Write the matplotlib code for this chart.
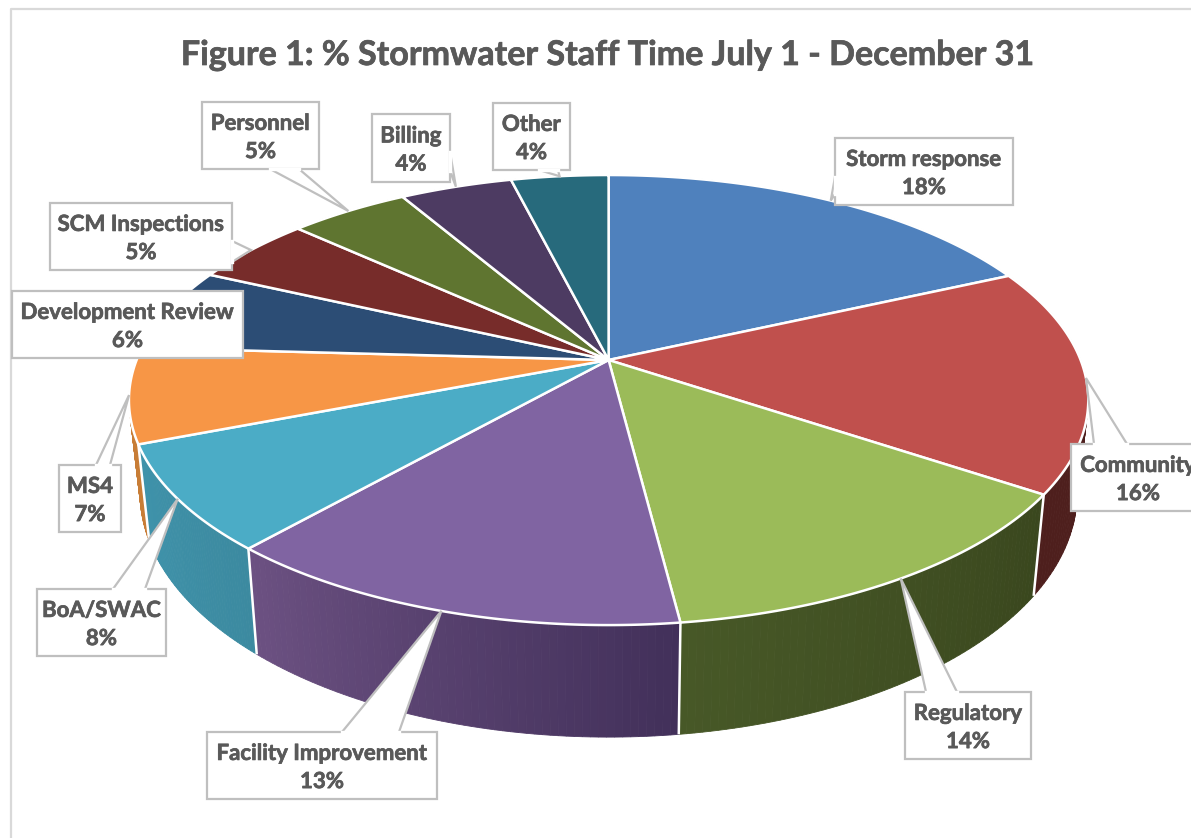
import matplotlib
matplotlib.use("Agg")
import matplotlib.pyplot as plt
import matplotlib.patheffects as pe
from matplotlib.patches import Polygon, Rectangle
import numpy as np

plt.rcParams['font.family'] = ['Lato', 'DejaVu Sans']

titulo = "Figure 1: % Stormwater Staff Time July 1 - December 31"
categorias = ["Storm response", "Community", "Regulatory", "Facility Improvement",
              "BoA/SWAC", "MS4", "Development Review", "SCM Inspections",
              "Personnel", "Billing", "Other"]
rotulos = ["18%", "16%", "14%", "13%", "8%", "7%", "6%", "5%", "5%", "4%", "4%"]
# slice sizes (perspective makes them a bit off the labels)
fatias = [18.2, 16.2, 13.6, 13.5, 7.6, 6.8, 6.0, 4.9, 4.8, 4.5, 3.9]

cores_topo = ["#4f81bd", "#c0504d", "#9bbb59", "#8064a2", "#4bacc6", "#f79646",
              "#2c4d75", "#772c2a", "#5f7530", "#4d3b62", "#276a7c"]
cores_lado_esq = ["#2f4d71", "#4e1f1d", "#475827", "#6c5182", "#3f93ab", "#c87d36",
                  "#1a2e46", "#471a19", "#39461d", "#2e233b", "#173f4a"]
cores_lado_dir = ["#2f4d71", "#4e1f1d", "#3a471e", "#42305a", "#3c8aa0", "#c87d36",
                  "#1a2e46", "#471a19", "#39461d", "#2e233b", "#173f4a"]

# label boxes: x0, y0, x1, y1 and the two points where the tail leaves the box
caixas = [(835, 138, 1013, 205, (835, 177), (835, 194)),
          (1071, 444, 1205, 511, (1094, 444), (1127, 444)),
          (905, 692, 1031, 759, (926, 692), (957, 692)),
          (207, 732, 437, 799, (342, 732), (399, 732)),
          (37, 589, 166, 656, (113, 589), (145, 589)),
          (59, 465, 121, 532, (96, 465), (110, 465)),
          (12, 291, 243, 358, None, None),
          (50, 203, 232, 270, (232, 241), (232, 262)),
          (202, 102, 319, 169, (270, 169), (299, 169)),
          (372, 114, 450, 182, (450, 152), (450, 171)),
          (493, 103, 570, 170, (539, 170), (558, 170))]

# perspective of the disc
cx, cy = 608.6, 360
k = 0.178
a_topo, b_topo = 472, 217.9
a_base, b_base, dy_base = 461, 236, 90

negrito = [pe.withStroke(linewidth=0.5, foreground="#595959")]


def topo(ang):
    u, v = np.sin(ang), -np.cos(ang)
    d = 1 - k * v
    return cx + a_topo * u / d, cy + b_topo * v / d


def base(ang):
    u, v = np.sin(ang), -np.cos(ang)
    d = 1 - k * v
    return cx + a_base * u / d, cy + dy_base + b_base * v / d


def misturar(c1, c2, t):
    c1 = np.array(matplotlib.colors.to_rgb(c1))
    c2 = np.array(matplotlib.colors.to_rgb(c2))
    return tuple(c1 + (c2 - c1) * t)


fig = plt.figure(figsize=(11.91, 8.38), dpi=100, facecolor="white")
ax = fig.add_axes([0, 0, 1, 1])
ax.set_xlim(0, 1191)
ax.set_ylim(838, 0)
ax.axis("off")

# chart frame
ax.plot([11, 11, 1191], [838, 9, 9], color="#d9d9d9", lw=1.6, zorder=1)

limites = np.concatenate([[0], np.cumsum(fatias)]) / sum(fatias) * 2 * np.pi

# side wall, back to front
segmentos = []
for i in range(len(fatias)):
    angs = np.linspace(limites[i], limites[i + 1], 60)
    for j in range(len(angs) - 1):
        meio = (angs[j] + angs[j + 1]) / 2
        t = j / (len(angs) - 2)
        # angles run clockwise: on the front the slice goes right to left
        segmentos.append((-np.cos(meio), angs[j], angs[j + 1], misturar(cores_lado_dir[i], cores_lado_esq[i], t)))
segmentos.sort(key=lambda s: s[0])
for _, a0, a1, cor in segmentos:
    x0, y0 = topo(a0)
    x1, y1 = topo(a1)
    x2, y2 = base(a1)
    x3, y3 = base(a0)
    ax.add_patch(Polygon([(x0, y0), (x1, y1), (x2, y2), (x3, y3)], closed=True,
                         facecolor=cor, edgecolor=cor, lw=0.6, zorder=2))

# white seams on the wall
for ang in limites[1:-1]:
    if -np.cos(ang) > 0.25:
        xt, yt = topo(ang)
        xb, yb = base(ang)
        ax.plot([xt, xb], [yt, yb], color="white", lw=1.8, zorder=3, solid_capstyle="butt")

# top of the disc
for i in range(len(fatias)):
    angs = np.linspace(limites[i], limites[i + 1], 120)
    xs, ys = topo(angs)
    pts = [(cx, cy)] + list(zip(xs, ys))
    ax.add_patch(Polygon(pts, closed=True, facecolor=cores_topo[i], edgecolor="white",
                         lw=1.8, joinstyle="round", zorder=4))

# callouts
for i, nome in enumerate(categorias):
    x0, y0, x1, y1, p1, p2 = caixas[i]
    ax.add_patch(Rectangle((x0, y0), x1 - x0, y1 - y0, facecolor="white", edgecolor="#bfbfbf",
                           lw=1.6, zorder=6))
    if p1 is not None:
        meio = (limites[i] + limites[i + 1]) / 2
        ponta = topo(meio)
        ax.add_patch(Polygon([p1, ponta, p2], closed=False, facecolor="white", edgecolor="#bfbfbf",
                             lw=1.6, zorder=7))
        ax.plot([p1[0], p2[0]], [p1[1], p2[1]], color="white", lw=2.4, zorder=8)
    ax.text((x0 + x1) / 2, (y0 + y1) / 2 + 2, nome + "\n" + rotulos[i], ha="center", va="center",
            fontsize=16, fontweight="bold", color="#595959", linespacing=1.42, zorder=9,
            path_effects=negrito)

ax.text(607.5, 55, titulo, ha="center", va="center", fontsize=24.5, fontweight="bold", color="#595959",
        path_effects=negrito)

fig.savefig("out.png", dpi=100)
